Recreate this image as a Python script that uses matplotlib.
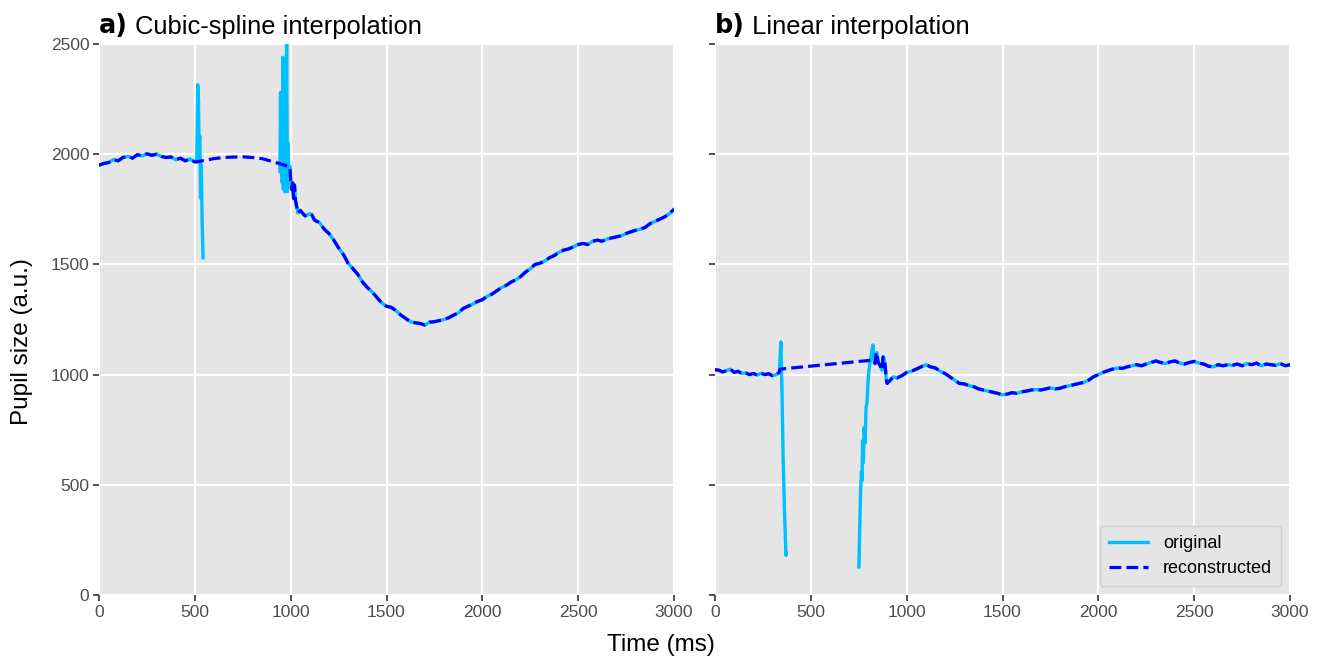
import numpy as np
import matplotlib
matplotlib.use("Agg")
import matplotlib.pyplot as plt

plt.rcParams["font.family"] = ["Liberation Sans", "DejaVu Sans"]

# ---- panel a) cubic spline: original samples (NaN = missing during blink)
left_time = [0, 25, 50, 75, 100, 125, 150, 175, 200, 225, 250, 275, 300, 325, 350, 375, 400, 425, 450, 475, 500,
             510, 515, 519, 522, 526, 530, 534, 538, 543, 560, 940,
             944, 947, 950, 953, 956, 959, 962, 966, 969, 972, 975, 979, 983, 987, 991, 996,
             1000, 1005, 1010, 1015, 1020, 1025, 1032, 1038, 1050, 1075, 1100, 1111, 1125, 1150, 1175, 1200,
             1225, 1250, 1275, 1300, 1325, 1350, 1375, 1400, 1425, 1450, 1475, 1500, 1525, 1550, 1575, 1600,
             1625, 1650, 1675, 1700, 1725, 1750, 1775, 1800, 1825, 1850, 1875, 1900, 1925, 1950, 1975, 2000,
             2025, 2050, 2075, 2100, 2125, 2150, 2175, 2200, 2225, 2250, 2275, 2300, 2325, 2350, 2375, 2400,
             2425, 2450, 2475, 2500, 2525, 2550, 2575, 2600, 2625, 2650, 2675, 2700, 2725, 2750, 2775, 2800,
             2825, 2850, 2875, 2900, 2925, 2950, 2975, 3000]
left_original = [1950, 1958, 1962, 1975, 1970, 1985, 1990, 1982, 1998, 1992, 2002, 1995, 2000, 1990, 1985, 1988, 1975, 1982, 1970, 1978, 1965,
                 1975, 2315, 2250, 2050, 2080, 1800, 1950, 1700, 1530, np.nan, np.nan,
                 1920, 2280, 1950, 2180, 1870, 2440, 1840, 2250, 1830, 2420, 1900, 2600, 1830, 2050, 1880, 1945,
                 1880, 1840, 1870, 1800, 1860, 1790, 1760, 1733, 1745, 1720, 1730, 1724, 1700, 1690, 1660, 1640,
                 1610, 1575, 1545, 1505, 1480, 1455, 1420, 1395, 1375, 1350, 1325, 1310, 1305, 1290, 1270, 1255,
                 1240, 1235, 1232, 1225, 1238, 1240, 1245, 1250, 1258, 1270, 1280, 1300, 1310, 1320, 1332, 1340,
                 1355, 1365, 1380, 1395, 1405, 1420, 1430, 1445, 1465, 1480, 1500, 1505, 1515, 1530, 1540, 1555,
                 1565, 1570, 1580, 1590, 1595, 1590, 1605, 1610, 1605, 1615, 1620, 1625, 1630, 1640, 1648, 1655,
                 1660, 1668, 1685, 1695, 1705, 1715, 1730, 1750]
# dashed spline drawn across the blink
left_gap_time = [510, 550, 600, 650, 700, 750, 800, 850, 900, 950, 996]
left_gap_value = [1965, 1972, 1980, 1985, 1987, 1988, 1985, 1980, 1968, 1955, 1942]

# ---- panel b) linear interpolation
right_time = [0, 20, 40, 60, 80, 100, 120, 140, 160, 180, 200, 220, 240, 260, 280, 300, 320, 335,
              344, 350, 355, 362, 370, 372, 400, 740,
              751, 755, 760, 764, 767, 770, 774, 778, 783, 788, 793, 798, 803, 810, 817, 824,
              830, 835, 840, 845, 850, 855, 862, 871, 877, 883, 888, 893, 898, 903, 915, 930, 950, 975,
              1000, 1025, 1050, 1075, 1100, 1125, 1150, 1175, 1200, 1225, 1250, 1275, 1300, 1325, 1350, 1375,
              1400, 1425, 1450, 1475, 1500, 1525, 1550, 1575, 1600, 1625, 1650, 1675, 1700, 1725, 1750, 1775,
              1800, 1825, 1850, 1875, 1900, 1925, 1950, 1975, 2000, 2025, 2050, 2075, 2100, 2125, 2150, 2175,
              2200, 2225, 2250, 2275, 2300, 2325, 2350, 2375, 2400, 2425, 2450, 2475, 2500, 2525, 2550, 2575,
              2600, 2625, 2650, 2675, 2700, 2725, 2750, 2775, 2800, 2825, 2850, 2875, 2900, 2925, 2950, 2975, 3000]
right_original = [1022, 1020, 1012, 1018, 1025, 1010, 1015, 1005, 1008, 1000, 1005, 998, 1006, 1000, 1004, 995, 1000, 1010,
                  1148, 900, 640, 400, 180, 190, np.nan, np.nan,
                  127, 300, 480, 560, 520, 700, 600, 760, 690, 850, 870, 960, 1020, 1060, 1100, 1135,
                  1060, 1050, 1090, 1100, 1060, 1050, 1040, 1020, 1080, 1070, 1040, 980, 960, 965, 975, 990, 985, 995,
                  1010, 1015, 1025, 1035, 1045, 1035, 1030, 1015, 1005, 990, 975, 960, 958, 950, 945, 935,
                  930, 925, 920, 915, 908, 912, 918, 915, 922, 925, 930, 932, 930, 935, 940, 935,
                  938, 945, 950, 955, 960, 965, 975, 990, 1000, 1010, 1018, 1025, 1030, 1028, 1035, 1040,
                  1045, 1040, 1048, 1055, 1062, 1055, 1050, 1058, 1062, 1052, 1048, 1055, 1060, 1052, 1048, 1038,
                  1035, 1045, 1040, 1045, 1042, 1048, 1040, 1050, 1045, 1052, 1040, 1048, 1045, 1042, 1050, 1040, 1045]
right_gap_time = [340, 826]
right_gap_value = [1025, 1066]

x_ticks = [0, 500, 1000, 1500, 2000, 2500, 3000]
y_ticks = [0, 500, 1000, 1500, 2000, 2500]
titles = [("a)", " Cubic-spline interpolation"), ("b)", " Linear interpolation")]


def reconstruct(t, v, gt, gv):
    """Replace the blink window by the interpolated gap curve."""
    t, v = np.asarray(t, float), np.asarray(v, float)
    keep = (t < gt[0]) | (t > gt[-1])
    rt = np.concatenate([t[keep], gt])
    rv = np.concatenate([v[keep], gv])
    order = np.argsort(rt)
    return rt[order], rv[order]


fig = plt.figure(figsize=(13.21, 6.57), dpi=100)
ax_l = fig.add_axes([99 / 1321, 62 / 657, 575 / 1321, 551 / 657])
ax_r = fig.add_axes([715 / 1321, 62 / 657, 575 / 1321, 551 / 657], sharey=ax_l)

panels = [(ax_l, left_time, left_original, left_gap_time, left_gap_value),
          (ax_r, right_time, right_original, right_gap_time, right_gap_value)]

for i, (ax, t, v, gt, gv) in enumerate(panels):
    ax.set_facecolor("#E5E5E5")
    ax.grid(True, color="white", linewidth=1.5)
    ax.set_axisbelow(True)
    for s in ax.spines.values():
        s.set_visible(False)
    ax.plot(t, v, color="#00BFFF", linewidth=2.4, label="original")
    rt, rv = reconstruct(t, v, gt, gv)
    ax.plot(rt, rv, color="blue", linestyle="--", linewidth=2.3, label="reconstructed")
    ax.set_xlim(0, 3000)
    ax.set_ylim(0, 2500)
    ax.set_xticks(x_ticks)
    ax.set_yticks(y_ticks)
    ax.tick_params(colors="#333333", labelcolor="#4D4D4D", labelsize=12.5, length=4, width=1.2, pad=3)
    bold, rest = titles[i]
    t1 = ax.annotate(bold, xy=(0, 1), xycoords="axes fraction", xytext=(0, 8), textcoords="offset points",
                     fontsize=18.4, fontweight="bold", family="DejaVu Sans", va="baseline", ha="left")
    ax.annotate(rest, xy=(1, 0), xycoords=t1, fontsize=18.4, va="bottom", ha="left")

ax_r.tick_params(labelleft=False)

leg = ax_r.legend(loc="lower right", fontsize=13, handlelength=2.2, frameon=True, fancybox=True,
                  borderpad=0.5, labelspacing=0.45, borderaxespad=0.5)
leg.get_frame().set_facecolor("#E5E5E5")
leg.get_frame().set_edgecolor("#D0D0D0")
leg.get_frame().set_alpha(1)

fig.text(661 / 1321, 1 - 645 / 657, "Time (ms)", fontsize=17.5, ha="center", va="center")
fig.text(22 / 1321, 1 - 342 / 657, "Pupil size (a.u.)", fontsize=17.5, ha="center", va="center", rotation=90)

fig.savefig("out.png", dpi=100)
